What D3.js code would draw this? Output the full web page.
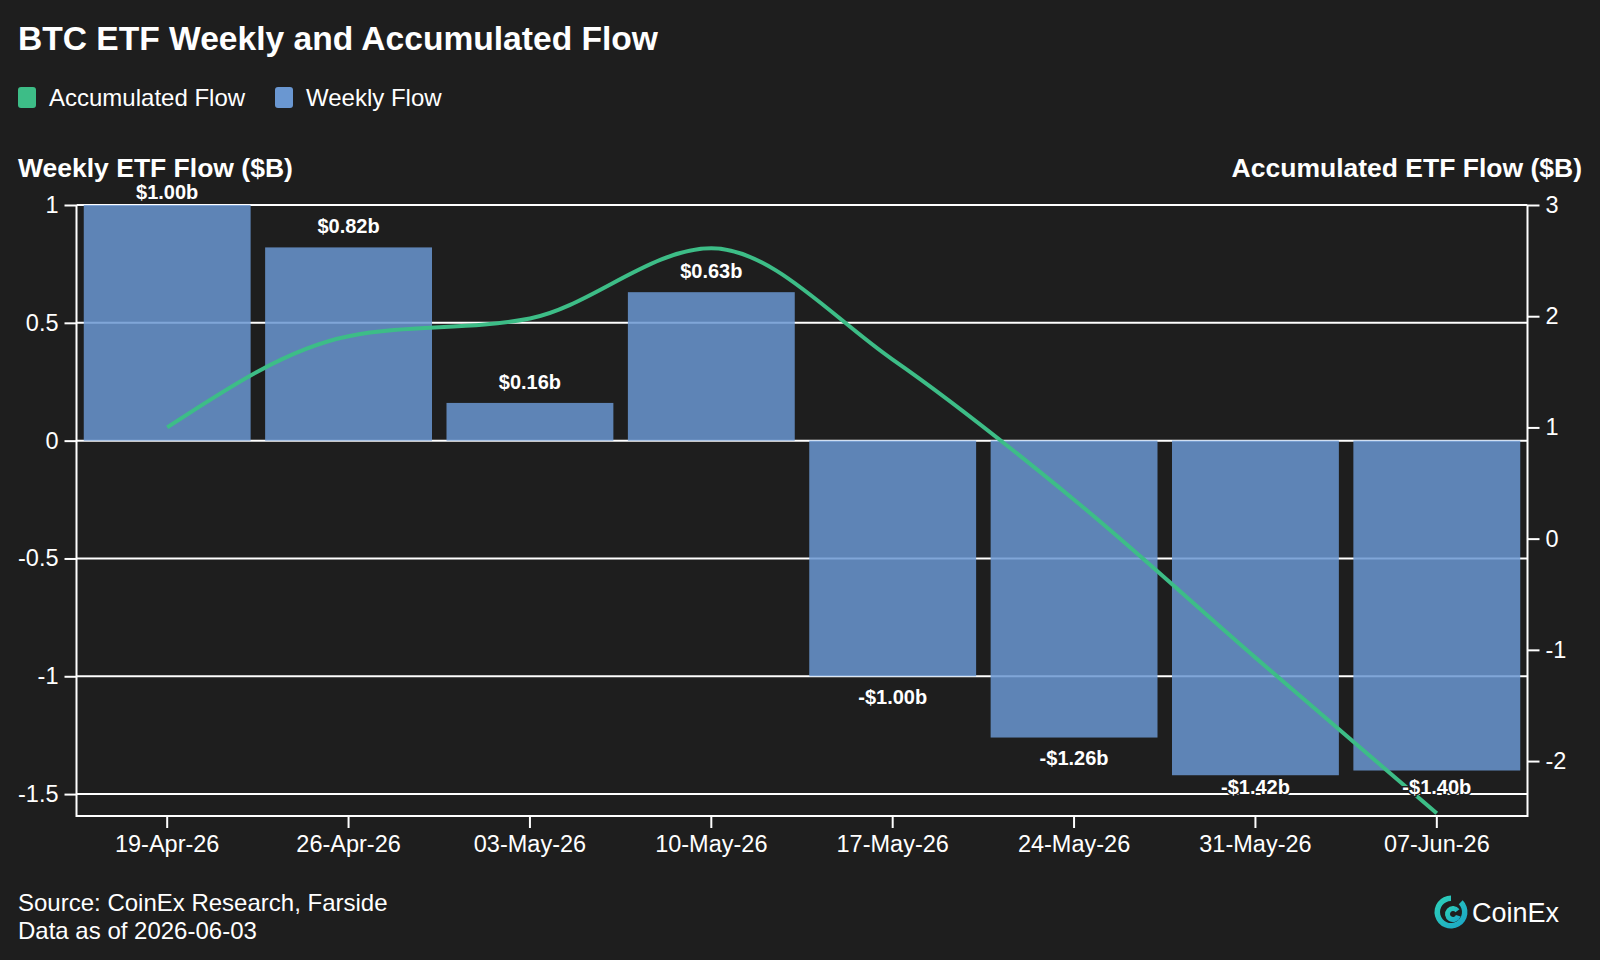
<!DOCTYPE html>
<html>
<head>
<meta charset="utf-8">
<script src="https://cdn.jsdelivr.net/npm/d3@7"></script>
<style>
  html, body { margin: 0; padding: 0; background: #1e1e1e; }
  svg { display: block; }
  text { font-family: "Liberation Sans", Arial, Helvetica, sans-serif; }
</style>
</head>
<body>
<svg id="chart" width="1600" height="960"></svg>
<script>
// ---- data ----
const categories = ["19-Apr-26", "26-Apr-26", "03-May-26", "10-May-26", "17-May-26", "24-May-26", "31-May-26", "07-Jun-26"];
const weeklyFlow = [1.00, 0.82, 0.16, 0.63, -1.00, -1.26, -1.42, -1.40];
const accumulatedFlow = [1.00, 1.82, 1.98, 2.61, 1.61, 0.35, -1.07, -2.47];
const leftTicks = [1, 0.5, 0, -0.5, -1, -1.5];
const leftTickLabels = ["1", "0.5", "0", "-0.5", "-1", "-1.5"];
const rightTicks = [3, 2, 1, 0, -1, -2];
const rightTickLabels = ["3", "2", "1", "0", "-1", "-2"];
const barLabels = ["$1.00b", "$0.82b", "$0.16b", "$0.63b", "-$1.00b", "-$1.26b", "-$1.42b", "-$1.40b"];

// ---- layout ----
const W = 1600, H = 960;
const bg = "#1e1e1e";
const L = 76.5, R = 1527.5, T = 205, B = 816;
const green = "#3dbd87", blue = "#6a97d1";
const tickFont = 23.5;

const svg = d3.select("#chart");
svg.append("rect").attr("width", W).attr("height", H).attr("fill", bg);

const x = d3.scaleBand().domain(categories).range([L, R]).paddingInner(0.08).paddingOuter(0.04);
const yL = d3.scaleLinear().domain([-1.593, 1]).range([B, T]);
const yR = d3.scaleLinear().domain([-2.494, 3]).range([B, T]);

// title
svg.append("text").attr("x", 18).attr("y", 50).attr("fill", "#fff")
  .attr("font-size", 33.6).attr("font-weight", "bold").text("BTC ETF Weekly and Accumulated Flow");

// legend
const legend = [{ name: "Accumulated Flow", color: green, x: 18 }, { name: "Weekly Flow", color: blue, x: 275 }];
legend.forEach(d => {
  svg.append("rect").attr("x", d.x).attr("y", 87).attr("width", 18).attr("height", 21).attr("rx", 3).attr("fill", d.color);
  svg.append("text").attr("x", d.x + 31).attr("y", 106).attr("fill", "#fff").attr("font-size", 24).text(d.name);
});

// axis titles
svg.append("text").attr("x", 18).attr("y", 177).attr("fill", "#fff").attr("font-size", 26.5)
  .attr("font-weight", "bold").text("Weekly ETF Flow ($B)");
svg.append("text").attr("x", 1582).attr("y", 177).attr("fill", "#fff").attr("font-size", 26.5)
  .attr("font-weight", "bold").attr("text-anchor", "end").text("Accumulated ETF Flow ($B)");

// gridlines (behind bars)
svg.append("g").selectAll("line").data(leftTicks).join("line")
  .attr("x1", L).attr("x2", R).attr("y1", d => yL(d)).attr("y2", d => yL(d))
  .attr("stroke", "#fff").attr("stroke-width", 2);

// bars
svg.append("g").selectAll("rect").data(weeklyFlow).join("rect")
  .attr("x", (d, i) => x(categories[i]))
  .attr("width", x.bandwidth())
  .attr("y", d => yL(Math.max(0, d)))
  .attr("height", d => Math.abs(yL(d) - yL(0)))
  .attr("fill", blue).attr("fill-opacity", 0.85);

// frame (left, bottom, right)
svg.append("path").attr("d", `M${L},${T}V${B}H${R}V${T}`).attr("fill", "none").attr("stroke", "#fff").attr("stroke-width", 2);

// left axis
const axL = d3.axisLeft(yL).tickValues(leftTicks).tickSize(12).tickPadding(6)
  .tickFormat((d, i) => leftTickLabels[i]);
const gL = svg.append("g").attr("transform", `translate(${L},0)`).call(axL);
gL.select(".domain").remove();
gL.selectAll(".tick line").attr("stroke", "#fff").attr("stroke-width", 2);
gL.selectAll(".tick text").attr("fill", "#fff").attr("font-size", tickFont).attr("font-family", "Liberation Sans, Arial, sans-serif");

// right axis
const axR = d3.axisRight(yR).tickValues(rightTicks).tickSize(12).tickPadding(6)
  .tickFormat((d, i) => rightTickLabels[i]);
const gR = svg.append("g").attr("transform", `translate(${R},0)`).call(axR);
gR.select(".domain").remove();
gR.selectAll(".tick line").attr("stroke", "#fff").attr("stroke-width", 2);
gR.selectAll(".tick text").attr("fill", "#fff").attr("font-size", tickFont).attr("font-family", "Liberation Sans, Arial, sans-serif");

// bottom axis
const axB = d3.axisBottom(x).tickSize(12).tickPadding(7);
const gB = svg.append("g").attr("transform", `translate(0,${B})`).call(axB);
gB.select(".domain").remove();
gB.selectAll(".tick line").attr("stroke", "#fff").attr("stroke-width", 2);
gB.selectAll(".tick text").attr("fill", "#fff").attr("font-size", tickFont).attr("font-family", "Liberation Sans, Arial, sans-serif");

// accumulated line
const line = d3.line()
  .x((d, i) => x(categories[i]) + x.bandwidth() / 2)
  .y(d => yR(d))
  .curve(d3.curveMonotoneX);
svg.append("path").datum(accumulatedFlow).attr("d", line)
  .attr("fill", "none").attr("stroke", green).attr("stroke-width", 4);

// bar labels (kept inside the plot area)
svg.append("g").selectAll("text").data(weeklyFlow).join("text")
  .attr("x", (d, i) => x(categories[i]) + x.bandwidth() / 2)
  .attr("y", d => d >= 0 ? Math.max(yL(d) - 14, 199) : Math.min(yL(d) + 27.5, 794))
  .attr("text-anchor", "middle")
  .attr("fill", "#fff").attr("font-size", 20).attr("font-weight", "bold")
  .attr("stroke", bg).attr("stroke-width", 3).attr("paint-order", "stroke")
  .text((d, i) => barLabels[i]);

// source
svg.append("text").attr("x", 18).attr("y", 911).attr("fill", "#fff").attr("font-size", 24).text("Source: CoinEx Research, Farside");
svg.append("text").attr("x", 18).attr("y", 939).attr("fill", "#fff").attr("font-size", 24).text("Data as of 2026-06-03");

// logo
const logo = svg.append("g").attr("transform", "translate(1451,912)");
const grad = svg.append("defs").append("linearGradient").attr("id", "lg").attr("x1", "0").attr("y1", "0").attr("x2", "1").attr("y2", "1");
grad.append("stop").attr("offset", "0%").attr("stop-color", "#2ed3b7");
grad.append("stop").attr("offset", "100%").attr("stop-color", "#1aa3c8");
logo.append("path").attr("d", d3.arc()({ innerRadius: 11, outerRadius: 16.5, startAngle: Math.PI * 0.25, endAngle: Math.PI * 2.0 }))
  .attr("fill", "url(#lg)");
logo.append("path").attr("d", d3.arc()({ innerRadius: 3, outerRadius: 8, startAngle: Math.PI * 0.6, endAngle: Math.PI * 2.3 }))
  .attr("fill", "url(#lg)").attr("transform", "translate(2,2)");
logo.append("text").attr("x", 21).attr("y", 10).attr("fill", "#fff").attr("font-size", 27).attr("font-family", "Inter, 'Noto Sans', sans-serif").text("CoinEx");
</script>
</body>
</html>
